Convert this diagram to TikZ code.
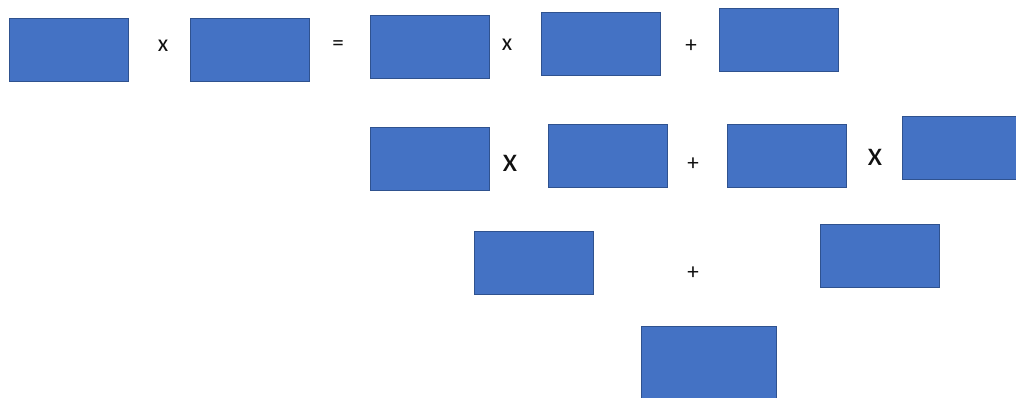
\documentclass[tikz,border=0pt]{standalone}
\usepackage{fontspec}
\setmainfont{Carlito}
\definecolor{boxfill}{HTML}{4472C4}
\definecolor{boxline}{HTML}{2F528F}
\definecolor{optext}{HTML}{111111}
\begin{document}
\begin{tikzpicture}[x=1pt,y=-1pt,
  bx/.style={draw=boxline,fill=boxfill,line width=0.8pt,inner sep=0pt,anchor=north west,minimum width=119pt,minimum height=63pt},
  opsmall/.style={text=optext,font=\fontsize{24}{26}\selectfont,inner sep=0pt},
  opbig/.style={text=optext,font=\fontsize{34}{36}\selectfont,inner sep=0pt},
  plus/.style={text=optext,font=\fontsize{23}{25}\selectfont,inner sep=0pt}]
\useasboundingbox (0,0) rectangle (1016,398);
% row 1
\node[bx] (a) at (9,18) {};
\node[bx] (b) at (190,18) {};
\node[bx] (c) at (370,15) {};
\node[bx] (d) at (541,12) {};
\node[bx] (e) at (719,8) {};
\node[opsmall] (o1) at (163,46) {x};
\node[plus] (o2) at (338,46) {=};
\node[opsmall] (o3) at (507,45) {x};
\node[plus] (o4) at (691,46) {+};
% row 2
\node[bx] (f) at (370,127) {};
\node[bx] (g) at (548,124) {};
\node[bx] (h) at (727,124) {};
\node[bx] (i) at (902,116) {};
\node[opbig] (o5) at (510,163) {x};
\node[plus] (o6) at (693,164) {+};
\node[opbig] (o7) at (875,157) {x};
% row 3
\node[bx] (j) at (474,231) {};
\node[bx] (k) at (820,224) {};
\node[plus] (o8) at (693,273) {+};
% row 4
\node[bx,minimum width=135pt,minimum height=74pt] (l) at (641,326) {};
\end{tikzpicture}
\end{document}
